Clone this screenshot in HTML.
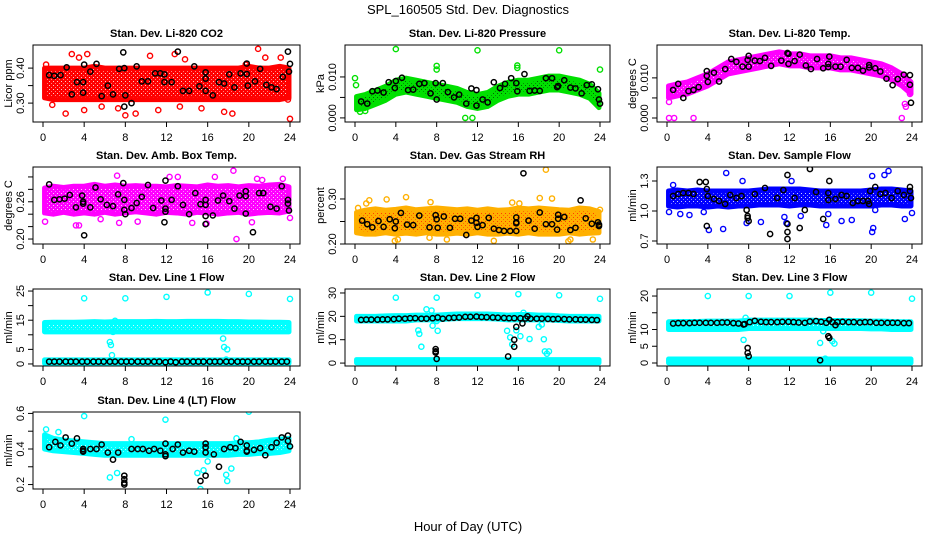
<!DOCTYPE html>
<html><head><meta charset="utf-8"><style>
body{margin:0;background:#fff;}
svg{display:block;font-family:"Liberation Sans",Arial,sans-serif;}
</style></head><body>
<svg id="chart" width="936" height="540" viewBox="0 0 936 540" xmlns="http://www.w3.org/2000/svg">
<rect x="0" y="0" width="936" height="540" fill="#fff"/>
<text x="468" y="14" font-size="13" text-anchor="middle">SPL_160505  Std. Dev. Diagnostics</text>
<text x="468" y="531" font-size="13" text-anchor="middle">Hour of Day (UTC)</text>
</svg>
<script>
const HOURS=[0,1,2,3,4,5,6,7,8,9,10,11,12,13,14,15,16,17,18,19,20,21,22,23,24];
const XTICKS=[0,4,8,12,16,20,24];
const LINE_HRS=[0.6,1.1,1.6,2.2,2.7,3.2,3.8,4.3,4.9,5.4,5.9,6.5,7.0,7.6,8.1,8.6,9.2,9.7,10.2,10.8,11.3,11.9,12.4,12.9,13.5,14.0,14.6,15.1,15.6,16.2,16.7,17.2,17.8,18.3,18.9,19.4,19.9,20.5,21.0,21.6,22.1,22.6,23.2,23.7];

// CO2
const co2Lo=[0.315,0.31,0.31,0.31,0.31,0.31,0.31,0.31,0.31,0.31,0.31,0.31,0.31,0.31,0.31,0.31,0.31,0.31,0.31,0.31,0.31,0.31,0.31,0.31,0.315];
const co2Hi=[0.4,0.4,0.4,0.4,0.4,0.405,0.4,0.4,0.4,0.4,0.4,0.4,0.4,0.4,0.4,0.4,0.4,0.4,0.4,0.4,0.405,0.4,0.4,0.405,0.4];
const co2OutH=[0.3,0.9,2.2,2.8,3.5,4,4.3,5.7,7.3,8,9,10.4,11.2,12.8,13.3,13.8,15.4,17.6,18.4,20.9,21.6,23.1,23.8,24,19.7];
const co2OutV=[0.41,0.295,0.27,0.44,0.43,0.28,0.44,0.29,0.285,0.265,0.27,0.435,0.28,0.44,0.29,0.425,0.285,0.275,0.27,0.455,0.43,0.43,0.31,0.255,0.41];
const co2BlkH=[0.6,1.1,1.7,2.3,2.8,3.3,3.9,3.9,4,4.6,5.2,5.7,6.3,6.8,7.4,7.8,7.9,7.9,8,8.6,9.1,9.6,10.2,10.9,11.4,11.8,11.8,12.5,13.1,13.6,14.2,14.7,15.2,15.8,15.8,15.8,16.5,17.1,17.6,18.1,18.6,19.2,19.8,19.8,19.9,20.6,21.1,21.7,22.2,22.7,23.3,23.8,23.9,24];
const co2BlkV=[0.38,0.378,0.38,0.402,0.325,0.36,0.36,0.33,0.41,0.39,0.412,0.32,0.35,0.325,0.398,0.445,0.4,0.29,0.322,0.3,0.405,0.362,0.362,0.385,0.385,0.382,0.36,0.36,0.447,0.335,0.335,0.405,0.348,0.388,0.37,0.335,0.322,0.36,0.356,0.382,0.345,0.385,0.413,0.383,0.35,0.362,0.398,0.352,0.345,0.34,0.375,0.447,0.39,0.412];

// Pressure
const prLo=[0.002,0.0023,0.0033,0.0043,0.0058,0.0063,0.0058,0.0053,0.0048,0.0043,0.0038,0.0028,0.0023,0.0028,0.0043,0.0053,0.0058,0.0058,0.0063,0.0068,0.0068,0.0063,0.0058,0.0048,0.0025];
const prHi=[0.0052,0.0057,0.0067,0.0077,0.0092,0.0097,0.0092,0.0087,0.0082,0.0077,0.0072,0.0062,0.0057,0.0062,0.0077,0.0087,0.0092,0.0092,0.0097,0.0102,0.0102,0.0097,0.0092,0.0082,0.006];
const prOutH=[0,0.1,0.5,1,4,8,8,10.8,11.5,12,15.9,15.9,20,24];
const prOutV=[0.0097,0.008,0.0015,0.0017,0.0168,0.0127,0.0118,0,0,0.0165,0.0128,0.0122,0.0165,0.0118];
const prBlkH=[0.6,1.2,1.7,2.2,2.8,3.3,3.9,4,4.6,5.2,5.7,6.3,6.8,7.4,7.9,8,8.6,9.1,9.7,10.2,10.9,11.4,11.9,11.9,12.5,13,13.6,14.2,14.7,15.3,15.8,15.9,16.6,17.1,17.6,18.1,18.7,19.3,19.8,19.9,20.5,21.1,21.6,22.2,22.7,23.2,23.8,23.9,24];
const prBlkV=[0.004,0.0035,0.0065,0.0067,0.0062,0.0087,0.0073,0.009,0.0098,0.0068,0.0069,0.0083,0.0085,0.006,0.0085,0.0045,0.0085,0.0063,0.005,0.0057,0.0035,0.0072,0.003,0.0068,0.0045,0.0038,0.0087,0.0073,0.0083,0.0097,0.0085,0.0065,0.0107,0.0066,0.0067,0.0066,0.0097,0.0097,0.0075,0.0078,0.0092,0.0074,0.0072,0.006,0.008,0.0082,0.007,0.0045,0.0035];

// Li-820 Temp
const ltLo=[0.005,0.0055,0.006,0.007,0.008,0.0095,0.011,0.0115,0.012,0.0125,0.013,0.0135,0.013,0.013,0.0125,0.0125,0.0125,0.012,0.012,0.0115,0.011,0.0105,0.0095,0.008,0.006];
const ltHi=[0.008,0.0085,0.009,0.01,0.011,0.0125,0.014,0.0145,0.015,0.0155,0.016,0.0165,0.016,0.016,0.0155,0.0155,0.0155,0.015,0.015,0.0145,0.014,0.0135,0.0125,0.011,0.009];
const ltOutH=[0.2,0.7,2.6,23,23.3,23.4,0.2,23.8];
const ltOutV=[0,0,0,0,0.0035,0.0028,0.004,0.006];
const ltBlkH=[0.6,1.1,1.6,2.1,2.6,3.1,3.9,3.9,4,4.6,5.1,5.7,6.3,6.8,7.4,7.9,8,8,8.6,9.1,9.6,10.2,11.2,11.8,11.9,11.9,12.5,13,13.6,14.1,14.7,15.3,15.8,15.9,15.8,16.5,17,17.6,18.1,18.7,19.2,19.8,19.8,20.4,20.9,21.5,22.1,22.6,23.2,23.8,23.8,23.9];
const ltBlkV=[0.007,0.0085,0.005,0.0067,0.007,0.0077,0.0117,0.0105,0.009,0.0113,0.0091,0.0122,0.0147,0.014,0.0128,0.0145,0.0128,0.0155,0.0143,0.0142,0.015,0.013,0.0143,0.0162,0.016,0.0135,0.0142,0.0158,0.0131,0.0122,0.0147,0.0124,0.0127,0.0153,0.0135,0.0128,0.0128,0.0145,0.0125,0.0125,0.0118,0.0132,0.0126,0.0124,0.0116,0.0098,0.0082,0.0097,0.0108,0.0107,0.0083,0.0038];

// Amb box temp
const abLo=[0.242,0.24,0.243,0.24,0.242,0.24,0.243,0.24,0.242,0.244,0.242,0.24,0.243,0.242,0.24,0.243,0.242,0.24,0.242,0.243,0.24,0.242,0.243,0.242,0.245];
const abHi=[0.282,0.285,0.283,0.285,0.285,0.288,0.285,0.287,0.285,0.286,0.285,0.285,0.284,0.286,0.285,0.284,0.287,0.285,0.286,0.284,0.286,0.285,0.287,0.288,0.284];
const abOutH=[0.2,3.2,3.5,5.6,7.2,7.4,12.3,13.1,15.9,16.7,18.8,18.5,20.8,21.3,23.3,24,20.3,9.2,14.5];
const abOutV=[0.228,0.222,0.222,0.232,0.302,0.226,0.3,0.3,0.225,0.3,0.2,0.31,0.297,0.295,0.297,0.234,0.227,0.228,0.226];
const abBlkH=[0.6,1.1,1.6,2.1,2.6,3.2,3.8,3.9,3.9,4,4.6,5.1,5.6,6.2,6.8,7.3,7.8,7.9,7.9,8,8.6,9.1,9.6,10.2,10.7,11.5,11.9,11.9,11.9,11.8,12.5,13.1,13.6,14.2,14.8,15.3,15.8,15.8,15.8,15.8,16.5,17,17.5,18.1,18.6,19.1,19.7,19.7,19.7,20.4,21,21.4,22.1,22.7,23.2,23.8,23.8,23.9];
const abBlkV=[0.288,0.263,0.264,0.265,0.271,0.251,0.27,0.26,0.257,0.206,0.251,0.283,0.264,0.255,0.253,0.272,0.29,0.263,0.247,0.24,0.25,0.258,0.268,0.287,0.25,0.262,0.294,0.249,0.244,0.227,0.263,0.285,0.255,0.24,0.274,0.256,0.255,0.263,0.237,0.224,0.238,0.262,0.27,0.261,0.249,0.27,0.277,0.269,0.241,0.211,0.274,0.274,0.252,0.249,0.285,0.263,0.257,0.246];

// Gas stream RH
const rhLo=[0.225,0.222,0.222,0.225,0.222,0.224,0.222,0.225,0.222,0.222,0.224,0.222,0.225,0.222,0.222,0.224,0.222,0.225,0.222,0.222,0.222,0.225,0.222,0.224,0.225];
const rhHi=[0.27,0.275,0.278,0.275,0.277,0.28,0.276,0.278,0.28,0.278,0.276,0.278,0.275,0.278,0.275,0.276,0.28,0.278,0.28,0.278,0.276,0.275,0.28,0.278,0.272];
const rhOutH=[0.3,1.1,1.4,3.1,5,7.4,7.3,3.9,4.2,9,13.6,15.4,18.1,18.7,19.3,20.9,21.1,23.3,24,16.1];
const rhOutV=[0.28,0.29,0.297,0.299,0.304,0.293,0.214,0.207,0.21,0.21,0.207,0.292,0.302,0.365,0.301,0.206,0.21,0.21,0.276,0.29];
const rhBlkH=[0.7,1.2,1.7,2.3,2.8,3.4,3.9,4,4.5,5.1,5.7,6.3,7.3,7.9,8,8.1,8.7,9.3,9.8,10.3,10.9,11.4,11.9,11.9,12,12.5,13.1,13.6,14.1,14.6,15.2,15.8,15.8,15.8,15.8,16.5,17,17.6,18.1,18.7,19.3,19.9,19.9,19.8,20.5,21.1,21.6,22.1,22.6,23.2,23.8,23.9,23.9];
const rhBlkV=[0.252,0.244,0.237,0.251,0.238,0.255,0.235,0.25,0.269,0.243,0.242,0.263,0.237,0.264,0.255,0.236,0.261,0.236,0.256,0.256,0.22,0.252,0.258,0.247,0.238,0.242,0.258,0.234,0.231,0.229,0.229,0.246,0.248,0.259,0.229,0.357,0.252,0.234,0.27,0.244,0.244,0.265,0.256,0.232,0.26,0.231,0.236,0.297,0.257,0.245,0.248,0.243,0.24];

// Sample flow
const sfLo=[1.05,1.04,1.05,1.05,1.04,1.05,1.04,1.05,1.05,1.06,1.06,1.06,1.05,1.06,1.06,1.05,1.05,1.05,1.05,1.05,1.05,1.06,1.06,1.05,1.05];
const sfHi=[1.2,1.21,1.2,1.21,1.2,1.2,1.2,1.2,1.2,1.21,1.22,1.22,1.22,1.22,1.21,1.2,1.2,1.2,1.2,1.2,1.21,1.22,1.22,1.21,1.2];
const sfOutH=[0.2,0.6,1.3,2.2,3.6,4.1,5.5,5.8,7.4,7.8,9.2,11.5,11.7,12.2,13.1,15.6,15.8,17.1,18.1,20.1,20.2,20.1,21.3,21.7,23.3,24,20.4];
const sfOutV=[0.99,1.26,0.97,0.96,0.99,0.81,0.82,1.38,1.3,0.88,0.89,0.94,0.88,1.3,0.95,0.86,0.97,0.9,0.91,0.79,0.83,1.35,1.36,1.4,0.92,0.98,1.01];
const sfBlkH=[0.6,1.1,1.6,2.1,2.6,3.2,3.8,3.9,3.9,4,4.6,5.1,5.7,6.2,6.8,7.3,7.8,7.9,7.9,8,8.6,9.6,10.1,10.8,11.4,11.8,11.8,11.8,11.8,12.5,13,13.5,14,14.6,15.3,15.8,15.8,15.9,16.5,17.1,17.6,18.2,18.7,19.2,19.7,19.8,19.9,20.4,20.9,21.4,22,22.6,23.2,23.8,23.8,23.9];
const sfBlkV=[1.15,1.17,1.18,1.18,1.17,1.29,1.29,1.22,0.85,1.15,1.12,1.1,1.07,1.16,1.13,1.15,1.01,0.93,0.95,0.9,1.17,1.23,0.77,1.13,1.21,1.36,0.87,0.79,0.72,1.13,0.83,1.01,1.42,1.19,0.92,1.18,1.11,1.3,1.12,1.16,1.15,1.08,1.1,1.1,1.1,1.07,1.2,1.24,1.17,1.18,1.13,1.2,1.16,1.24,1.2,1.13];

// Line 1 flow
const l1Lo=[11,11,11,11,11,11,11,11,11,11,11,11,11,11,11,11,11,11,11,11,11,11,11,11,11];
const l1Hi=[14.2,14.3,14.3,14.3,14.4,14.5,14.4,14.5,14.5,14.5,14.5,14.6,14.5,14.5,14.6,14.6,14.6,14.6,14.5,14.5,14.4,14.4,14.3,14.3,14.2];
const l1Lo2=[0.2,0.2,0.2,0.2,0.2,0.2,0.2,0.2,0.2,0.2,0.2,0.2,0.2,0.2,0.2,0.2,0.2,0.2,0.2,0.2,0.2,0.2,0.2,0.2,0.2];
const l1Hi2=[1.4,1.4,1.4,1.4,1.4,1.4,1.4,1.4,1.4,1.4,1.4,1.4,1.4,1.4,1.4,1.4,1.4,1.4,1.4,1.4,1.4,1.4,1.4,1.4,1.4];
const l1OutH=[4,8,12,16,20,24,6.5,6.6,6.7,7,17.5,17.6,17.9,17.8,6.8];
const l1OutV=[22.5,22.5,23,24.5,24,22.3,7.5,6.5,3,14.8,8.7,5.8,5,1.5,11];
const l1BlkV=[0.8,0.8,0.8,0.8,0.8,0.8,0.8,0.8,0.8,0.8,0.8,0.8,0.8,0.8,0.8,0.8,0.8,0.8,0.8,0.8,0.8,0.6,0.8,0.6,0.8,0.8,0.8,0.8,0.8,0.8,0.8,0.8,0.8,0.8,0.8,0.8,0.8,0.8,0.8,0.8,0.8,0.8,0.8,0.8];

// Line 2 flow
const l2Lo=[18,18,18,18,18,18,18.5,18.5,18.5,18.8,19,19,19,19,18.8,18.5,18.5,18.5,18.5,18.5,18.2,18,18,18,18];
const l2Hi=[20,20,20,20.2,20.3,20.3,20.5,20.5,20.5,20.8,21,21,21,21,20.8,20.5,20.8,20.8,20.5,20.5,20.2,20,20,20,20];
const l2Lo2=[0.1,0.1,0.1,0.1,0.1,0.1,0.1,0.1,0.1,0.1,0.1,0.1,0.1,0.1,0.1,0.1,0.1,0.1,0.1,0.1,0.1,0.1,0.1,0.1,0.1];
const l2Hi2=[1.5,1.5,1.5,1.5,1.5,1.5,1.5,1.5,1.5,1.5,1.5,1.5,1.5,1.5,1.5,1.5,1.5,1.5,1.5,1.5,1.5,1.5,1.5,1.5,1.5];
const l2OutH=[4,8,12,16,20,24,6.2,6.3,6.5,7,7.5,7.6,8,8.1,14.9,15.2,15.4,15.8,16.2,16.5,17.1,18,18.3,18.5,18.6,18.8,19];
const l2OutV=[28,28,29,29.5,29,27.5,14,12.5,7,23,22.5,16,18,13.8,13.8,11,8,14,11.5,21.5,10.3,15.5,16.5,10.2,5,4,5];
const l2BlkV=[18.5,18.6,18.6,18.6,18.7,18.7,18.8,19,19,19.2,19.2,19,19,19.2,19.5,19,19.3,19.4,19.5,19.8,19.8,19.9,19.7,19.6,19.5,19.4,19.3,19.2,19.2,19.2,19.1,19,19,19,18.9,18.8,18.9,18.8,18.7,18.7,18.6,18.6,18.5,18.4];
const l2ExH=[7.9,7.9,7.9,8,15,15.6,15.6,15.8,16.4,16.9];
const l2ExV=[6,5,4.5,1.8,2.8,7,10,15.5,17,20];

// Line 3 flow
const l3Lo=[10,10,10,10,10,10,10,10,10.3,10.3,10.3,10.3,10.3,10.3,10.3,10.3,10.3,10.3,10.3,10.3,10.2,10.2,10,10,10];
const l3Hi=[12.3,12.4,12.4,12.4,12.5,12.5,12.5,12.5,12.8,12.8,12.8,12.8,12.8,12.8,12.8,12.7,12.7,12.7,12.6,12.6,12.5,12.5,12.4,12.3,12.3];
const l3Lo2=[0,0,0,0,0,0,0,0,0,0,0,0,0,0,0,0,0,0,0,0,0,0,0,0,0];
const l3Hi2=[1.2,1.2,1.2,1.2,1.2,1.2,1.2,1.2,1.2,1.2,1.2,1.2,1.2,1.2,1.2,1.2,1.2,1.2,1.2,1.2,1.2,1.2,1.2,1.2,1.2];
const l3OutH=[4,8,12,16,20,24,7.5,7.7,15,15.3,16.2,16.4,15.5];
const l3OutV=[20,20,20,21,21,19.2,6.9,13.5,6,9.5,6.5,5.8,1.3];
const l3BlkV=[11.8,11.9,11.9,11.9,12,12,12,12,12,12.1,12.1,11.9,11.8,11.6,12.2,12.6,12.3,12.2,12.2,12.2,12.3,12.3,12.2,12.1,12,12.4,12.5,12.3,12,12.2,12.2,12.3,12.2,12.2,12.1,12.2,12.2,12,12,12,12,12,11.9,11.9];
const l3ExH=[7.9,7.9,8,7.5,15,15.8,15.9,15.9,16.5];
const l3ExV=[4.5,3,2,11.5,0.8,8,7.5,12.9,11.3];

// Line 4 flow
const l4Lo=[0.4,0.39,0.385,0.38,0.375,0.37,0.365,0.365,0.365,0.365,0.365,0.365,0.365,0.365,0.365,0.365,0.365,0.365,0.365,0.37,0.37,0.375,0.375,0.38,0.39];
const l4Hi=[0.48,0.46,0.45,0.445,0.44,0.435,0.43,0.43,0.43,0.43,0.43,0.43,0.43,0.43,0.43,0.43,0.43,0.43,0.43,0.435,0.435,0.44,0.45,0.455,0.46];
const l4OutH=[0.3,1.5,4,6.5,7.2,11.9,15,15.3,15.6,16,17.8,17.9,18.3,18.8,20,8.6];
const l4OutV=[0.51,0.495,0.585,0.24,0.265,0.565,0.265,0.175,0.28,0.33,0.255,0.22,0.29,0.46,0.61,0.455];
const l4BlkH=[0.6,1.2,1.7,2.2,2.8,3.3,3.9,3.9,3.9,4.6,5.2,5.7,6.3,6.8,7.3,7.9,7.9,7.9,7.9,8.6,9.2,9.7,10.3,10.8,11.4,11.9,11.9,11.9,12.6,13.1,13.6,14.2,14.7,15.3,15.8,15.8,15.8,15.8,16.6,17.1,17.6,18.2,18.7,19.2,19.8,19.8,19.8,20.5,21.1,21.6,22.2,22.7,23.2,23.8,23.8,24];
const l4BlkV=[0.41,0.44,0.42,0.465,0.43,0.46,0.4,0.39,0.385,0.4,0.4,0.425,0.38,0.34,0.38,0.25,0.23,0.21,0.2,0.4,0.4,0.4,0.39,0.4,0.39,0.43,0.37,0.36,0.4,0.425,0.38,0.39,0.385,0.22,0.43,0.41,0.38,0.25,0.37,0.3,0.4,0.41,0.405,0.44,0.42,0.39,0.385,0.395,0.405,0.365,0.41,0.435,0.465,0.475,0.445,0.415];

const NS='http://www.w3.org/2000/svg';
const svg=document.getElementById('chart');
function mk(tag,attrs,parent){const e=document.createElementNS(NS,tag);for(const k in attrs)e.setAttribute(k,attrs[k]);(parent||svg).appendChild(e);return e;}

const COLS=[[33,300],[345,610],[657,922]];
const ROWS=[[45,122],[167,244],[289,366],[412,489]];

const panels=[
 {name:'co2',title:'Stan. Dev. Li-820 CO2',ylab:'Licor ppm',c:0,r:0,ymin:0.246,ymax:0.466,ticks:[0.30,0.35,0.40],labels:['0.30','','0.40'],col:'#ff0000',dot:'#ffffff',bands:[[co2Lo,co2Hi]],outH:co2OutH,outV:co2OutV,bH:co2BlkH,bV:co2BlkV},
 {name:'pressure',title:'Stan. Dev. Li-820 Pressure',ylab:'kPa',c:1,r:0,ymin:-0.001,ymax:0.0178,ticks:[0,0.005,0.01],labels:['0.000','','0.010'],col:'#00e000',dot:'#004400',bands:[[prLo,prHi]],outH:prOutH,outV:prOutV,bH:prBlkH,bV:prBlkV},
 {name:'li-temp',title:'Stan. Dev. Li-820 Temp.',ylab:'degrees C',c:2,r:0,ymin:-0.001,ymax:0.0182,ticks:[0,0.005,0.01],labels:['0.000','','0.010'],col:'#ff00ff',dot:'#ffffff',bands:[[ltLo,ltHi]],outH:ltOutH,outV:ltOutV,bH:ltBlkH,bV:ltBlkV},
 {name:'amb-box-temp',title:'Stan. Dev. Amb. Box Temp.',ylab:'degrees C',c:0,r:1,ymin:0.192,ymax:0.316,ticks:[0.20,0.22,0.24,0.26,0.28,0.30],labels:['0.20','','','0.26','',''],col:'#ff00ff',dot:'#ffffff',bands:[[abLo,abHi]],outH:abOutH,outV:abOutV,bH:abBlkH,bV:abBlkV},
 {name:'gas-rh',title:'Stan. Dev. Gas Stream RH',ylab:'percent',c:1,r:1,ymin:0.20,ymax:0.371,ticks:[0.20,0.25,0.30],labels:['0.20','','0.30'],col:'#ffb000',dot:'#ff2000',bands:[[rhLo,rhHi]],outH:rhOutH,outV:rhOutV,bH:rhBlkH,bV:rhBlkV},
 {name:'sample-flow',title:'Stan. Dev. Sample Flow',ylab:'ml/min',c:2,r:1,ymin:0.67,ymax:1.44,ticks:[0.7,1.0,1.3],labels:['0.7','1.0','1.3'],col:'#0000ff',dot:'#ffffff',bands:[[sfLo,sfHi]],outH:sfOutH,outV:sfOutV,bH:sfBlkH,bV:sfBlkV},
 {name:'line1-flow',title:'Stan. Dev. Line 1 Flow',ylab:'ml/min',c:0,r:2,ymin:-0.7,ymax:25.7,ticks:[0,5,10,15,20,25],labels:['0','5','','15','','25'],col:'#00ffff',dot:'#ffffff',bands:[[l1Lo,l1Hi],[l1Lo2,l1Hi2]],outH:l1OutH,outV:l1OutV,bH:LINE_HRS,bV:l1BlkV},
 {name:'line2-flow',title:'Stan. Dev. Line 2 Flow',ylab:'ml/min',c:1,r:2,ymin:-1.25,ymax:31.7,ticks:[0,10,20,30],labels:['0','10','20','30'],col:'#00ffff',dot:'#ffffff',bands:[[l2Lo,l2Hi],[l2Lo2,l2Hi2]],outH:l2OutH,outV:l2OutV,bH:LINE_HRS.concat(l2ExH),bV:l2BlkV.concat(l2ExV)},
 {name:'line3-flow',title:'Stan. Dev. Line 3 Flow',ylab:'ml/min',c:2,r:2,ymin:-0.9,ymax:22.1,ticks:[0,5,10,15,20],labels:['0','5','10','','20'],col:'#00ffff',dot:'#ffffff',bands:[[l3Lo,l3Hi],[l3Lo2,l3Hi2]],outH:l3OutH,outV:l3OutV,bH:LINE_HRS.concat(l3ExH),bV:l3BlkV.concat(l3ExV)},
 {name:'line4-flow',title:'Stan. Dev. Line 4 (LT) Flow',ylab:'ml/min',c:0,r:3,ymin:0.175,ymax:0.608,ticks:[0.2,0.3,0.4,0.5,0.6],labels:['0.2','','0.4','','0.6'],col:'#00ffff',dot:'#ffffff',bands:[[l4Lo,l4Hi]],outH:l4OutH,outV:l4OutV,bH:l4BlkH,bV:l4BlkV}
];

const defs=mk('defs',{});
panels.forEach(p=>{
 const [x0,x1]=COLS[p.c],[y0,y1]=ROWS[p.r];
 const sx=h=>x0+10+h*(x1-x0-20)/24;
 const sy=v=>y1-(v-p.ymin)/(p.ymax-p.ymin)*(y1-y0);
 const pat=mk('pattern',{id:'pat-'+p.name,width:4,height:4,patternUnits:'userSpaceOnUse'},defs);
 mk('rect',{x:0,y:0,width:4,height:4,fill:p.col},pat);
 mk('rect',{x:1,y:1,width:1,height:1,fill:p.dot,opacity:0.8},pat);
 mk('rect',{x:3,y:3,width:1,height:1,fill:p.dot,opacity:0.5},pat);
 const g=mk('g',{});
 
 
 const clip=mk('clipPath',{id:'clip-'+p.name},g);
 mk('rect',{x:x0,y:y0,width:x1-x0,height:y1-y0},clip);
 const data=mk('g',{'clip-path':'url(#clip-'+p.name+')'},g);
 p.bands.forEach((b,i)=>{
  const pts=HOURS.map((h,k)=>sx(Math.max(0.15,Math.min(23.9,h)))+','+sy(b[1][k])).concat(HOURS.slice().reverse().map((h,k)=>sx(Math.max(0.15,Math.min(23.9,h)))+','+sy(b[0][HOURS.length-1-k])));
  const poly=mk('polygon',{points:pts.join(' '),fill:'url(#pat-'+p.name+')',stroke:p.col,'stroke-width':5,'stroke-linejoin':'round'},data);
  
  
 });
 p.outH.forEach((h,i)=>{
  const c=mk('circle',{cx:sx(h),cy:sy(p.outV[i]),r:2.6,fill:'none',stroke:p.col,'stroke-width':1.4},data);
  
  
 });
 p.bH.forEach((h,i)=>{
  const c=mk('circle',{cx:sx(h),cy:sy(p.bV[i]),r:2.6,fill:'none',stroke:'#000','stroke-width':1.5},data);
  
  
 });
 const box=mk('rect',{x:x0,y:y0,width:x1-x0,height:y1-y0,fill:'none',stroke:'#000','stroke-width':1},g);
 
 
 const t=mk('text',{x:(x0+x1)/2,y:y0-8,'font-size':11,'font-weight':'bold','text-anchor':'middle'},g);
 t.textContent=p.title;
 
 
 const yl=mk('text',{x:x0-21,y:(y0+y1)/2,'font-size':11,'text-anchor':'middle',transform:'rotate(-90 '+(x0-21)+' '+((y0+y1)/2)+')'},g);
 yl.textContent=p.ylab;
 
 
 p.ticks.forEach((v,i)=>{
  const y=sy(v);
  mk('line',{x1:x0-5,x2:x0,y1:y,y2:y,stroke:'#000'},g);
  if(p.labels[i]){
   const lx=x0-9;
   const l=mk('text',{x:lx,y:y,'font-size':11,'text-anchor':'middle',transform:'rotate(-90 '+lx+' '+y+')'},g);
   l.textContent=p.labels[i];
   
   
  }
 });
 XTICKS.forEach(h=>{
  const x=sx(h);
  mk('line',{x1:x,x2:x,y1:y1,y2:y1+5,stroke:'#000'},g);
  const l=mk('text',{x:x,y:y1+19,'font-size':11,'text-anchor':'middle'},g);
  l.textContent=String(h);
  
  
 });
});
</script>
</body></html>
